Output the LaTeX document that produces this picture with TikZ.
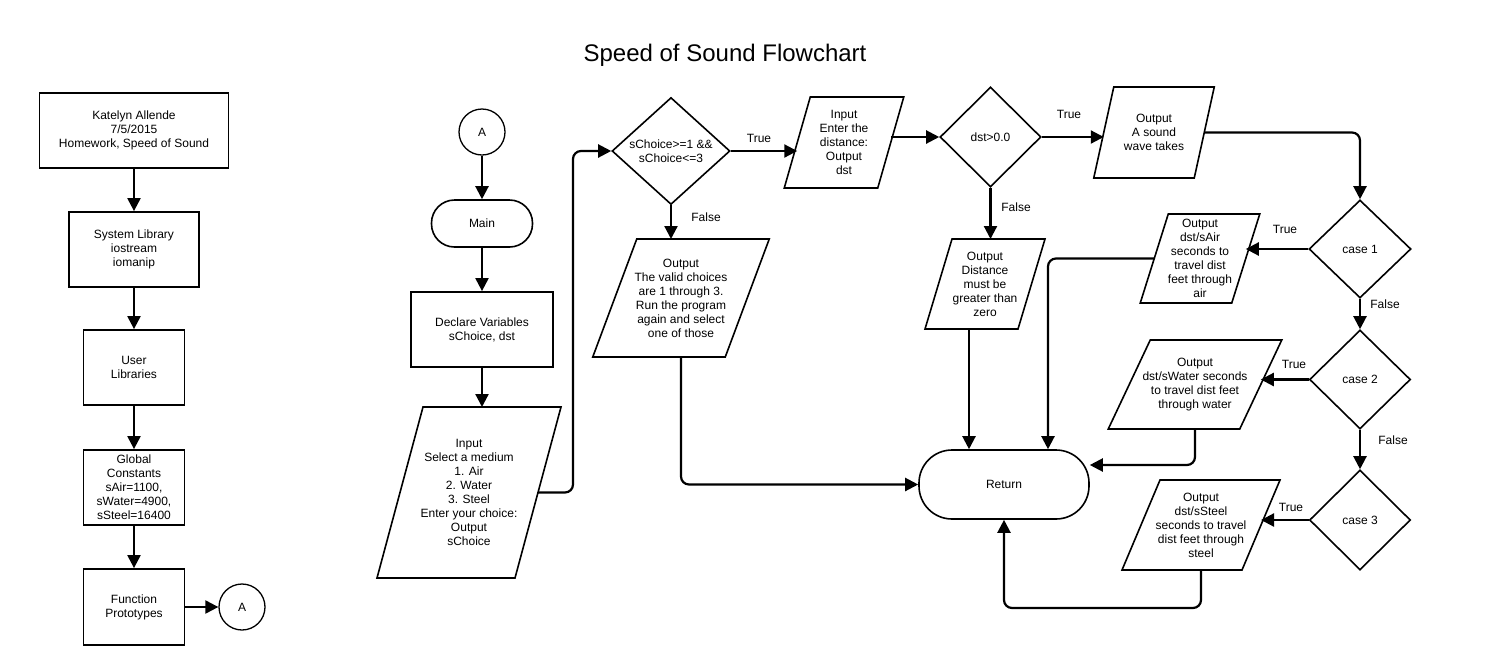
\documentclass[tikz,border=0pt]{standalone}
\usepackage{fontspec}
\setmainfont{Liberation Sans}
\usetikzlibrary{shapes.geometric,arrows.meta}

\tikzset{
    every node/.style={font=\fontsize{12}{14}\selectfont, align=center, inner sep=2pt},
    box/.style={draw, line width=1.8pt},
    para/.style={outer sep=0pt},
    decision/.style={draw, diamond, line width=1.6pt, inner sep=0pt},
    term/.style={draw, line width=1.6pt},
    conn/.style={draw, circle, line width=1.3pt, minimum size=46pt},
    outline/.style={line width=1.6pt},
    arr/.style={line width=2.2pt, rounded corners=8pt, -{Triangle[length=13pt,width=13pt]}}
}

\begin{document}
\begin{tikzpicture}[x=1pt, y=-1pt]
    \useasboundingbox (0,0) rectangle (1486,665);
    \node[font=\fontsize{24}{28}\selectfont] (title) at (725,55) {Speed of Sound Flowchart};

    \node[box, minimum width=189pt, minimum height=75pt] (info) at (134,130.5) {Katelyn Allende\\7/5/2015\\Homework, Speed of Sound};
    \node[box, minimum width=130pt, minimum height=75pt] (syslib) at (134,249.5) {System Library\\iostream\\iomanip};
    \node[box, minimum width=101pt, minimum height=75pt] (userlib) at (134,367.5) {User\\Libraries};
    \node[box, minimum width=101pt, minimum height=75pt] (globals) at (134,487.5) {Global\\Constants\\sAir=1100,\\sWater=4900,\\sSteel=16400};
    \node[box, minimum width=101pt, minimum height=76pt] (protos) at (134,607) {Function\\Prototypes};
    \node[conn] (conA) at (242,607) {A};

    \node[conn] (conB) at (482,132) {A};
    \node[term, rounded corners=23pt, minimum width=101pt, minimum height=47pt] (main) at (482,223.5) {Main};
    \node[box, minimum width=142pt, minimum height=75pt] (decl) at (482,329.5) {Declare Variables\\sChoice, dst};
    \node[para, minimum width=138pt, minimum height=171pt] (in1) at (469,492.5) {Input\\Select a medium\\1. Air\\2. Water\\3. Steel\\Enter your choice:\\Output\\sChoice};

    \node[decision, minimum width=118pt, minimum height=107pt] (d1) at (671,151) {sChoice>=1 \&\&\\sChoice<=3};
    \node[para, minimum width=93.5pt, minimum height=91pt] (in2) at (844,142.5) {Input\\Enter the\\distance:\\Output\\dst};
    \node[para, minimum width=132.5pt, minimum height=118pt] (out1) at (681,298) {Output\\The valid choices\\are 1 through 3.\\Run the program\\again and select\\one of those};
    \node[decision, minimum width=101pt, minimum height=100pt] (d2) at (990.5,137) {dst>0.0};
    \node[para, minimum width=100.5pt, minimum height=91pt] (outs) at (1154,132.5) {Output\\A sound\\wave takes};
    \node[para, minimum width=93pt, minimum height=90pt] (outd) at (985,284) {Output\\Distance\\must be\\greater than\\zero};
    \node[term, rounded corners=33pt, minimum width=170pt, minimum height=69pt] (ret) at (1004,484.5) {Return};

    \node[decision, minimum width=102pt, minimum height=98pt] (c1) at (1360,249) {case 1};
    \node[decision, minimum width=101pt, minimum height=99pt] (c2) at (1360,379.5) {case 2};
    \node[decision, minimum width=101pt, minimum height=100pt] (c3) at (1360,520) {case 3};
    \node[para, minimum width=91.5pt, minimum height=89pt] (outa) at (1200,258.5) {Output\\dst/sAir\\seconds to\\travel dist\\feet through\\air};
    \node[para, minimum width=131.5pt, minimum height=89pt] (outw) at (1195,384.5) {Output\\dst/sWater seconds\\to travel dist feet\\through water};
    \node[para, minimum width=120pt, minimum height=90pt] (outst) at (1201,525) {Output\\dst/sSteel\\seconds to travel\\dist feet through\\steel};

    \foreach \nd/\sh in {in1/23, in2/13, out1/22, outs/10, outd/13.5, outa/14, outw/21, outst/19} {
        \draw[outline] ([xshift=\sh pt]\nd.north west) -- ([xshift=\sh pt]\nd.north east)
            -- ([xshift=-\sh pt]\nd.south east) -- ([xshift=-\sh pt]\nd.south west) -- cycle;
    }

    \node (lt1) at (759,138) {True};
    \node (lf1) at (706,217) {False};
    \node (lt2) at (1069,114) {True};
    \node (lf2) at (1016,207) {False};
    \node (lt3) at (1285,229) {True};
    \node (lf3) at (1385,304) {False};
    \node (lt4) at (1294,364) {True};
    \node (lf4) at (1393,440) {False};
    \node (lt5) at (1291,507) {True};

    \draw[arr] (info) -- (syslib);
    \draw[arr] (syslib) -- (userlib);
    \draw[arr] (userlib) -- (globals);
    \draw[arr] (globals) -- (protos);
    \draw[arr] (protos) -- (conA);
    \draw[arr] (conB) -- (main);
    \draw[arr] (main) -- (decl);
    \draw[arr] (decl.south) -- (decl.south |- in1.north);
    \draw[arr] (in1.east) -- ++(35,0) |- (d1.west);
    \draw[arr] (d1.east) -- (d1.east -| in2.west);
    \draw[arr] (d1.south) -- (d1.south |- out1.north);
    \draw[arr] (in2.east |- d2.west) -- (d2.west);
    \draw[arr] (d2.east) -- (d2.east -| outs.west);
    \draw[arr] (outs.east) -| (c1.north);
    \draw[arr] (d2.south) -- (d2.south |- outd.north);
    \draw[arr] ([xshift=-16pt]outd.south) -- ([xshift=-16pt]outd.south |- ret.north);
    \draw[arr] (out1.south) |- (ret.west);
    \draw[arr] (c1.west) -- (c1.west -| outa.east);
    \draw[arr] (outa.west) -| ([xshift=44pt]ret.north);
    \draw[arr] (c1) -- (c2);
    \draw[arr] (c2.west) -- (c2.west -| outw.east);
    \draw[arr] (outw.south) |- ([yshift=19.5pt]ret.east);
    \draw[arr] (c2) -- (c3);
    \draw[arr] (c3.west) -- (c3.west -| outst.east);
    \draw[arr] (outst.south) -- ++(0,38) -| (ret.south);
\end{tikzpicture}
\end{document}
